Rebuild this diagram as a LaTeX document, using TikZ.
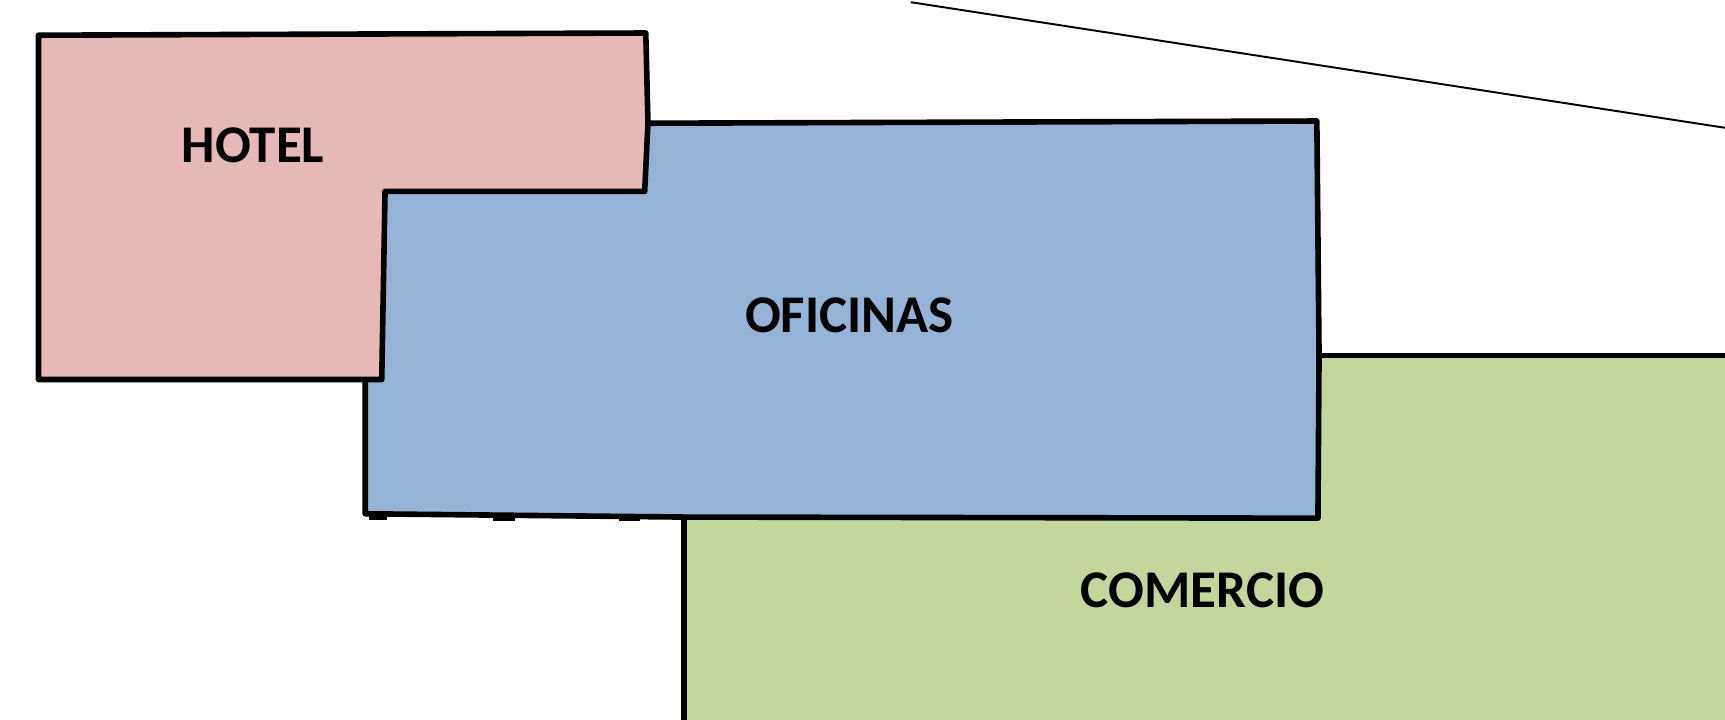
\documentclass[tikz,border=0pt]{standalone}
\usepackage{fontspec}
\setmainfont{Carlito}
\definecolor{hotelc}{HTML}{E6B8B7}
\definecolor{oficc}{HTML}{95B3D7}
\definecolor{comc}{HTML}{C3D69B}
\begin{document}
\begin{tikzpicture}[x=0.01cm,y=-0.01cm,
  zone/.style={draw=black,line width=1.45pt,line join=round},
  lbl/.style={font=\bfseries\fontsize{13.7}{16}\selectfont,inner sep=0pt,anchor=center}]
\useasboundingbox (0,0) rectangle (1568,654);
\clip (0,0) rectangle (1568,654);
% COMERCIO
\path[zone,fill=comc] (622,700) -- (622,323) -- (1199,323) -- (1600,323) -- (1600,700) -- cycle;
% OFICINAS
\path[zone,fill=oficc] (332,467) -- (332,112) -- (589,112) -- (1197,110) -- (1199,323) -- (1198,471) -- (622,470) -- cycle;
\draw[line width=1.7pt] (335,470) -- (352,470) (448,470.5) -- (468,470.5) (563,470.5) -- (582,470.5);
% HOTEL
\path[zone,fill=hotelc] (35,32) -- (587,30) -- (589,112) -- (586,174) -- (350,174) -- (347,345) -- (35,345) -- cycle;
% line
\coordinate (l1) at (828,2);
\coordinate (l2) at (1580,118);
\draw[line width=0.5pt] (l1) -- (l2);
\node[lbl] (hotel) at (230,132) {HOTEL};
\node[lbl] (oficinas) at (772,287) {OFICINAS};
\node[lbl] (comercio) at (1093,537) {COMERCIO};
\end{tikzpicture}
\end{document}
